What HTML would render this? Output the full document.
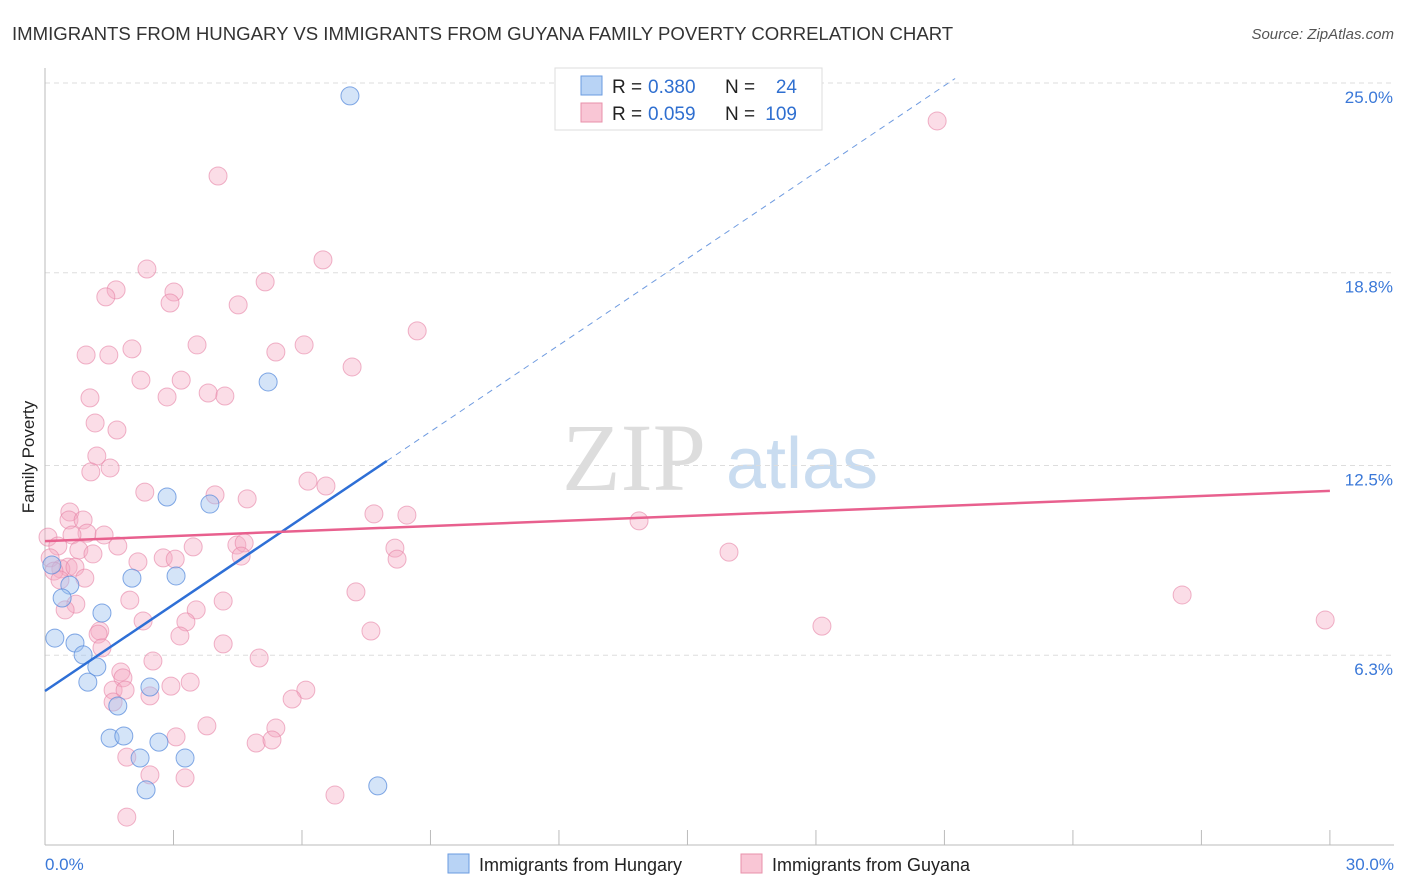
<!DOCTYPE html>
<html><head><meta charset="utf-8"><style>
body{margin:0;background:#fff;font-family:"Liberation Sans",sans-serif;}
svg{display:block}
</style></head><body>
<svg id="chart" width="1406" height="892">
<text x="12" y="40" font-size="18.6" fill="#333">IMMIGRANTS FROM HUNGARY VS IMMIGRANTS FROM GUYANA FAMILY POVERTY CORRELATION CHART</text>
<text x="1394" y="39" font-size="15" fill="#555" font-style="italic" text-anchor="end">Source: ZipAtlas.com</text>
<text transform="translate(34,457) rotate(-90)" font-size="17" fill="#222" text-anchor="middle">Family Poverty</text>
<g>
<text x="634" y="490" font-size="96" font-family="Liberation Serif" fill="#ddd" text-anchor="middle">ZIP</text>
<text x="802" y="488" font-size="72" fill="#c9dcf0" text-anchor="middle">atlas</text>
</g>
<g id="grid"></g><g id="axes"></g><g id="pts"></g><g id="trend"></g>
<g>
<rect x="555" y="68" width="267" height="62" fill="#fff" stroke="#ddd"/>
<rect x="581" y="76" width="21" height="19" fill="#b8d3f5" stroke="#6a9be0"/>
<rect x="581" y="103" width="21" height="19" fill="#f9c6d5" stroke="#e890aa"/>
<text x="612" y="93" font-size="19" fill="#222">R =</text>
<text x="648" y="93" font-size="19" fill="#2f6fd0">0.380</text>
<text x="725" y="93" font-size="19" fill="#222">N =</text>
<text x="797" y="93" font-size="19" fill="#2f6fd0" text-anchor="end">24</text>
<text x="612" y="120" font-size="19" fill="#222">R =</text>
<text x="648" y="120" font-size="19" fill="#2f6fd0">0.059</text>
<text x="725" y="120" font-size="19" fill="#222">N =</text>
<text x="797" y="120" font-size="19" fill="#2f6fd0" text-anchor="end">109</text>
</g>
<g>
<rect x="448" y="854" width="21" height="19" fill="#b8d3f5" stroke="#6a9be0"/>
<text x="479" y="871" font-size="18" fill="#222">Immigrants from Hungary</text>
<rect x="741" y="854" width="21" height="19" fill="#f9c6d5" stroke="#e890aa"/>
<text x="772" y="871" font-size="18" fill="#222">Immigrants from Guyana</text>
</g>
</svg>
<script>
const yTicks=[25,18.8,12.5,6.3];
const yTickLabels=["25.0%","18.8%","12.5%","6.3%"];
const hungaryX=[7.12,5.21,2.85,3.85,2.03,3.06,0.58,0.40,1.33,0.23,0.70,0.89,1.21,1.00,2.45,1.70,1.52,1.84,2.66,2.22,3.27,2.36,7.77,0.16];
const hungaryY=[24.58,15.23,11.47,11.24,8.82,8.89,8.59,8.17,7.68,6.86,6.70,6.31,5.92,5.42,5.26,4.64,3.59,3.66,3.46,2.94,2.94,1.90,2.03,9.25];
const guyanaX=[20.83,4.04,6.49,2.38,5.14,1.66,3.01,1.42,2.92,4.51,8.69,3.55,6.05,2.03,5.39,0.96,1.49,7.17,2.24,3.18,1.05,2.85,3.81,4.20,1.17,1.68,1.21,1.07,1.52,6.14,6.56,2.33,3.97,4.72,0.58,0.56,0.89,13.87,7.68,8.45,0.98,0.63,1.38,0.07,0.30,1.70,3.46,4.48,4.65,8.17,15.97,0.79,1.12,2.76,3.04,0.12,4.58,2.17,8.22,0.54,0.37,0.21,0.70,0.93,0.35,7.26,26.55,1.98,4.16,0.72,0.47,3.53,2.29,3.29,18.14,29.89,1.28,7.61,1.24,3.15,4.16,1.33,2.52,5.00,1.77,1.82,3.39,2.94,1.59,1.87,6.09,5.77,2.45,1.59,3.78,5.39,3.06,4.93,5.30,1.91,2.45,3.27,6.77,1.91];
const guyanaY=[23.76,21.96,19.22,18.92,18.50,18.24,18.17,18.01,17.81,17.75,16.90,16.44,16.44,16.31,16.21,16.11,16.11,15.72,15.29,15.29,14.71,14.74,14.87,14.77,13.89,13.66,12.81,12.29,12.42,11.99,11.83,11.63,11.54,11.41,10.98,10.72,10.72,10.69,10.92,10.88,10.29,10.23,10.23,10.16,9.87,9.87,9.84,9.90,9.97,9.80,9.67,9.74,9.61,9.48,9.44,9.48,9.54,9.35,9.44,9.18,9.12,9.05,9.18,8.82,8.76,8.37,8.27,8.10,8.07,7.97,7.78,7.78,7.42,7.39,7.25,7.45,7.09,7.09,6.99,6.93,6.67,6.54,6.11,6.21,5.75,5.56,5.42,5.29,5.16,5.16,5.16,4.87,4.97,4.77,3.99,3.92,3.63,3.43,3.53,2.97,2.39,2.29,1.73,1.01];
const hungaryTrend=[5.13,0.942];
const guyanaTrend=[10.03,11.67];
const NS="http://www.w3.org/2000/svg";
const X=v=>45+v*42.83, Y=v=>848-v*30.6;
function mk(t,a,p){const e=document.createElementNS(NS,t);for(const k in a)e.setAttribute(k,a[k]);p.appendChild(e);return e;}
const grid=document.getElementById('grid'),axes=document.getElementById('axes'),pts=document.getElementById('pts'),tr=document.getElementById('trend');
yTicks.forEach((v,i)=>{
 const l=mk('line',{x1:45,x2:1394,y1:Y(v),y2:Y(v),stroke:'#ddd','stroke-dasharray':'5,4'},grid);
 
 
 const t=mk('text',{x:1393,y:Y(v)+20,'font-size':17,fill:'#3a78d8','text-anchor':'end'},axes);
 t.textContent=yTickLabels[i];
 
 
});
mk('line',{x1:45,x2:45,y1:68,y2:845,stroke:'#bbb'},axes);
mk('line',{x1:45,x2:1394,y1:845,y2:845,stroke:'#bbb'},axes);
for(let i=0;i<=10;i++){const x=X(i*3);mk('line',{x1:x,x2:x,y1:830,y2:845,stroke:'#bbb'},axes);}
const t0=mk('text',{x:45,y:870,'font-size':17,fill:'#3a78d8'},axes);t0.textContent='0.0%';


const t1=mk('text',{x:1394,y:870,'font-size':17,fill:'#3a78d8','text-anchor':'end'},axes);t1.textContent='30.0%';


guyanaX.forEach((v,i)=>{const c=mk('circle',{cx:X(v),cy:Y(guyanaY[i]),r:9,fill:'rgba(244,170,195,0.4)',stroke:'rgba(230,130,165,0.6)','stroke-width':1},pts);
 
 });
hungaryX.forEach((v,i)=>{const c=mk('circle',{cx:X(v),cy:Y(hungaryY[i]),r:9,fill:'rgba(160,195,240,0.45)',stroke:'rgba(90,140,220,0.75)','stroke-width':1},pts);
 
 });
const hb=hungaryTrend[0],hs=hungaryTrend[1];
const l1=mk('line',{x1:X(0),y1:Y(hb),x2:X(7.98),y2:Y(hb+hs*7.98),stroke:'#2e6fd6','stroke-width':2.5},tr);


const l2=mk('line',{x1:X(7.98),y1:Y(hb+hs*7.98),x2:X(21.25),y2:Y(hb+hs*21.25),stroke:'#6f9be0','stroke-width':1,'stroke-dasharray':'6,5'},tr);


const l3=mk('line',{x1:X(0),y1:Y(guyanaTrend[0]),x2:X(30),y2:Y(guyanaTrend[1]),stroke:'#e8608e','stroke-width':2.5},tr);


</script>
</body></html>
